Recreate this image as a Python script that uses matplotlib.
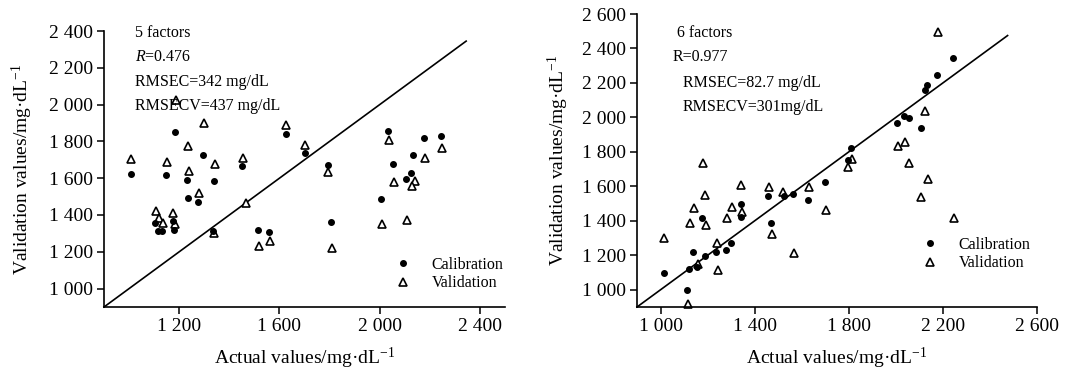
import matplotlib
matplotlib.use("Agg")
import matplotlib.pyplot as plt

plt.rcParams['font.family'] = ['Liberation Serif', 'DejaVu Serif']
plt.rcParams['mathtext.fontset'] = 'custom'
plt.rcParams['mathtext.rm'] = 'Liberation Serif'
plt.rcParams['mathtext.it'] = 'Liberation Serif:italic'
plt.rcParams['mathtext.bf'] = 'Liberation Serif:bold'

# ---------------- Left panel (5 factors) ----------------
cal5_x = [1007, 1184, 1148, 1295, 1233, 1339, 1237, 1276, 1452, 1625, 1104, 1116, 1131,
          1176, 1179, 1336, 1513, 1559,
          2033, 2176, 2245, 2133, 2055, 2123, 2104, 2005, 1804, 1792, 1700]
cal5_y = [1623, 1849, 1620, 1728, 1589, 1586, 1494, 1469, 1669, 1842, 1359, 1314, 1314,
          1368, 1319, 1315, 1317, 1306,
          1856, 1816, 1832, 1724, 1676, 1629, 1598, 1487, 1361, 1674, 1739]
val5_x = [1009, 1300, 1235, 1152, 1241, 1343, 1456, 1628, 1279, 1108, 1120, 1136, 1176,
          1184, 1340, 1468, 1517, 1563, 1187,
          2036, 2248, 2179, 2059, 2139, 2128, 2011, 2107, 1808, 1795, 1703]
val5_y = [1706, 1901, 1777, 1690, 1638, 1676, 1712, 1890, 1519, 1423, 1382, 1357, 1413,
          1353, 1303, 1465, 1233, 1260, 2027,
          1807, 1764, 1708, 1577, 1586, 1555, 1350, 1375, 1223, 1632, 1778]
line5 = [900, 2345]

# ---------------- Right panel (6 factors) ----------------
cal6_x = [1013, 1112, 1137, 1122, 1156, 1187, 1177, 1236, 1280, 1300, 1340, 1342,
          1470, 1457, 1526, 1561, 1627,
          1700, 1808, 1795, 2007, 2034, 2057, 2105, 2122, 2132, 2176, 2245]
cal6_y = [1100, 998, 1219, 1123, 1133, 1195, 1418, 1221, 1229, 1270, 1495, 1422,
          1387, 1545, 1545, 1556, 1522,
          1624, 1820, 1753, 1965, 2009, 1998, 1936, 2161, 2186, 2246, 2342]
val6_x = [1115, 1016, 1182, 1187, 1141, 1124, 1195, 1158, 1242, 1246, 1284, 1304,
          1344, 1347, 1460, 1521, 1474, 1566, 1629,
          2180, 2126, 2037, 2010, 1812, 1798, 2058, 2136, 2108, 2248, 1703]
val6_y = [919, 1300, 1735, 1549, 1474, 1389, 1375, 1148, 1273, 1117, 1416, 1483,
          1610, 1449, 1595, 1568, 1322, 1212, 1595,
          2498, 2040, 1859, 1832, 1761, 1712, 1738, 1641, 1537, 1416, 1462]
line6 = [900, 2475]

xticks5 = [1200, 1600, 2000, 2400]
yticks5 = [1000, 1200, 1400, 1600, 1800, 2000, 2200, 2400]
xticks6 = [1000, 1400, 1800, 2200, 2600]
yticks6 = [1000, 1200, 1400, 1600, 1800, 2000, 2200, 2400, 2600]

texts5 = ["5 factors", "$R$=0.476", "RMSEC=342 mg/dL", "RMSECV=437 mg/dL"]
texts6 = ["6 factors", "R=0.977", "RMSEC=82.7 mg/dL", "RMSECV=301mg/dL"]

def fmt(v):
    s = f"{v:,}".replace(",", " ")
    return s

fig = plt.figure(figsize=(10.67, 3.75), dpi=100)
W, H = 1067, 375
ax1 = fig.add_axes([104 / W, (H - 307) / H, 401 / W, 276 / H])
ax2 = fig.add_axes([637 / W, (H - 307) / H, 400 / W, 293 / H])

def style(ax, xlim, ylim, xt, yt):
    ax.set_xlim(*xlim)
    ax.set_ylim(*ylim)
    ax.set_xticks(xt)
    ax.set_yticks(yt)
    ax.set_xticklabels([fmt(v) for v in xt])
    ax.set_yticklabels([fmt(v) for v in yt])
    for s in ['top', 'right']:
        ax.spines[s].set_visible(False)
    for s in ['left', 'bottom']:
        ax.spines[s].set_linewidth(1.2)
    ax.tick_params(direction='out', length=5, width=1.1, labelsize=14, pad=3)
    ax.set_xlabel("Actual values/mg·dL$^{-1}$", fontsize=14)
    ax.set_ylabel("Validation values/mg·dL$^{-1}$", fontsize=14)

def draw(ax, cx, cy, vx, vy, line):
    ax.plot(line, line, color='black', lw=1.2, clip_on=False, zorder=1)
    ax.plot(cx, cy, 'o', color='black', ms=4.0, ls='none', label='Calibration',
            clip_on=False, zorder=3)
    ax.plot(vx, vy, '^', mfc='white', mec='black', mew=1.2, ms=5.5, ls='none',
            label='Validation', clip_on=False, zorder=2)

style(ax1, (900, 2500), (900, 2400), xticks5, yticks5)
style(ax2, (900, 2600), (900, 2600), xticks6, yticks6)
draw(ax1, cal5_x, cal5_y, val5_x, val5_y, line5)
draw(ax2, cal6_x, cal6_y, val6_x, val6_y, line6)

# label positions
ax1.yaxis.set_label_coords(-0.204, 0.5)
ax2.yaxis.set_label_coords(-0.1975, 0.5)
ax1.xaxis.set_label_coords(0.5, -0.185)
ax2.xaxis.set_label_coords(0.5, -0.174)
ax1.xaxis.label.set_va('center')
ax2.xaxis.label.set_va('center')
ax1.yaxis.label.set_va('center')
ax2.yaxis.label.set_va('center')

# annotations
for t, y in zip(texts5, [0.993, 0.906, 0.815, 0.728]):
    ax1.text(0.0773, y, t, transform=ax1.transAxes, fontsize=11.5, va='center', ha='left')
for t, x, y in zip(texts6, [0.1, 0.09, 0.115, 0.115], [0.935, 0.853, 0.765, 0.683]):
    ax2.text(x, y, t, transform=ax2.transAxes, fontsize=11.5, va='center', ha='left')

for ax, anchor in [(ax1, (0.726, 0.181)), (ax2, (0.7125, 0.239))]:
    ax.legend(loc='upper left', bbox_to_anchor=anchor, frameon=False, fontsize=11.5,
              handlelength=1.0, handletextpad=1.3, labelspacing=0.15, borderpad=0,
              borderaxespad=0)

fig.savefig("out.png", dpi=100)
